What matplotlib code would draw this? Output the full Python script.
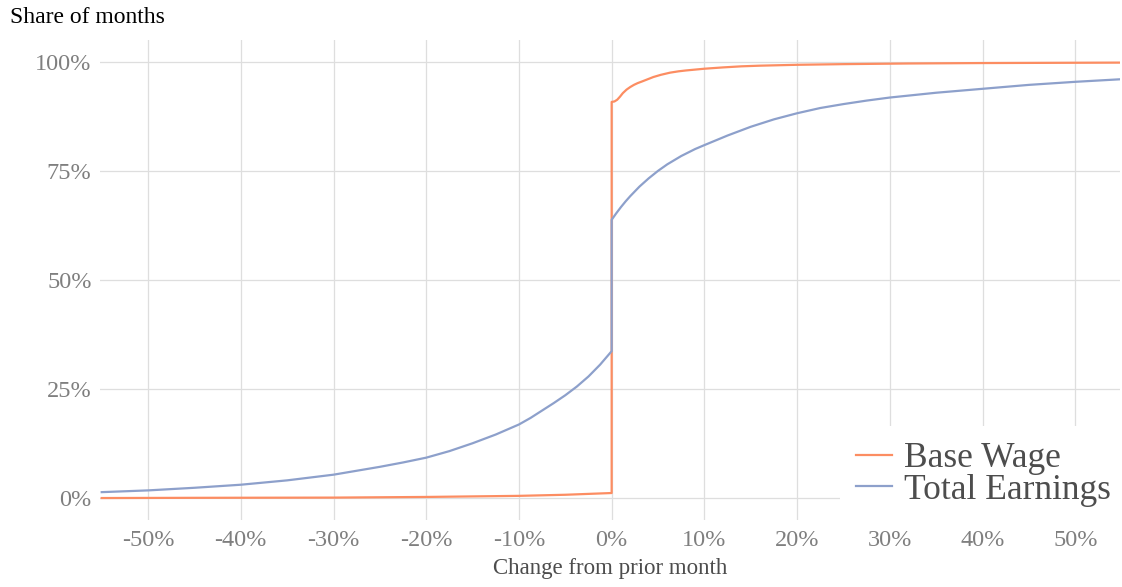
import numpy as np
import matplotlib.pyplot as plt
from matplotlib.ticker import FuncFormatter

# Values (x = change from prior month, %; y = share, %)
base_x_neg = [-55, -45, -30, -20, -10, -5, 0]
base_y_neg = [0.05, 0.1, 0.15, 0.3, 0.55, 0.8, 1.2]
base_x_pos = [0, 0.3, 0.6, 0.9, 1.2, 1.6, 2.0, 2.4, 2.8, 3.3, 3.9, 4.5, 5.3, 6.3, 7.2, 8, 9, 10, 12, 14, 16, 20, 25, 32, 40, 55]
base_y_pos = [90.8, 90.9, 91.3, 92.0, 92.8, 93.6, 94.2, 94.7, 95.1, 95.5, 96.0, 96.5, 97.0, 97.5, 97.8, 98.0, 98.2, 98.4, 98.7, 98.95, 99.1, 99.3, 99.45, 99.6, 99.7, 99.8]

total_x_neg = [-55, -50, -45, -40, -35, -30, -25, -22.5, -20, -17.5, -15, -12.5, -10, -8.75, -7.5, -6.25, -5, -3.75, -2.5, -1.25, 0]
total_y_neg = [1.4, 1.8, 2.4, 3.1, 4.1, 5.4, 7.2, 8.2, 9.3, 10.8, 12.6, 14.6, 16.9, 18.4, 20.1, 21.8, 23.6, 25.6, 27.9, 30.6, 33.7]
total_x_pos = [0, 0.5, 1, 1.5, 2, 3, 4, 5, 6, 7.5, 9, 10, 12.5, 15, 17.5, 20, 22.5, 25, 27.5, 30, 35, 40, 45, 50, 55]
total_y_pos = [63.8, 65.3, 66.7, 68.0, 69.2, 71.4, 73.3, 75.0, 76.5, 78.4, 80.0, 80.9, 83.1, 85.1, 86.8, 88.2, 89.4, 90.3, 91.1, 91.8, 92.9, 93.8, 94.7, 95.4, 96.0]

labels = ['Base Wage', 'Total Earnings']
colors = ['#FC8D62', '#8DA0CB']

plt.rcParams['font.family'] = ['Liberation Serif', 'DejaVu Serif']

fig = plt.figure(figsize=(11.22, 5.87), dpi=100)
ax = fig.add_axes([0.089, 0.114, 0.909, 0.818])

ax.plot(base_x_neg + base_x_pos, base_y_neg + base_y_pos, color=colors[0], lw=1.6, label=labels[0])
ax.plot(total_x_neg + total_x_pos, total_y_neg + total_y_pos, color=colors[1], lw=1.6, label=labels[1])

ax.set_xlim(-55.2, 54.8)
ax.set_ylim(-5, 105)
ax.set_xticks(np.arange(-50, 51, 10))
ax.set_yticks([0, 25, 50, 75, 100])
ax.xaxis.set_major_formatter(FuncFormatter(lambda v, p: f'{v:.0f}%'))
ax.yaxis.set_major_formatter(FuncFormatter(lambda v, p: f'{v:.0f}%'))
ax.grid(True, color='#DEDEDE', lw=0.9)
ax.set_axisbelow(True)
for s in ax.spines.values():
    s.set_visible(False)
ax.tick_params(length=0, labelsize=17.5, labelcolor='#7F7F7F')
ax.tick_params(axis='x', pad=7)
ax.tick_params(axis='y', pad=6)

ax.set_xlabel('Change from prior month', fontsize=16.5, color='#4D4D4D', labelpad=5)
fig.text(0.009, 0.97, 'Share of months', fontsize=17, color='black', va='center', ha='left')

leg = ax.legend(loc='lower right', bbox_to_anchor=(1.007, -0.005), fontsize=25.5, frameon=True,
                framealpha=1, edgecolor='none', facecolor='white', handlelength=1.0,
                handletextpad=0.35, labelspacing=-0.05, borderpad=0.45, borderaxespad=0)
for t in leg.get_texts():
    t.set_color('#4D4D4D')

plt.savefig('out.png', dpi=100)
